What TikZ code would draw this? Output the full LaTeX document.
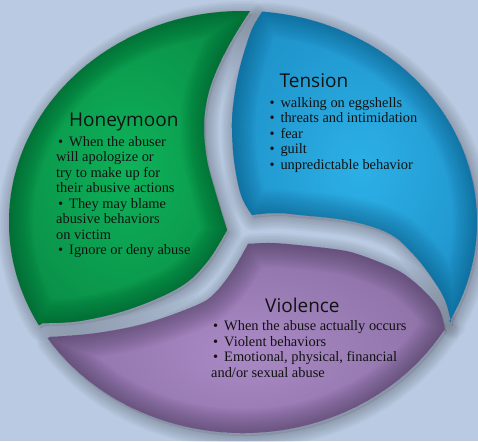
\documentclass[tikz,border=0pt]{standalone}
\usepackage{fontspec}
\setmainfont{Liberation Serif}
\newfontfamily\headfont{Open Sans}

\definecolor{bg}{HTML}{B9CAE2}
\definecolor{glight}{HTML}{0EB25A}
\definecolor{gbase}{HTML}{0A9249}
\definecolor{gdark}{HTML}{03401E}
\definecolor{blight}{HTML}{2CB0E6}
\definecolor{bbase}{HTML}{1F95CC}
\definecolor{bdark}{HTML}{0A456A}
\definecolor{plight}{HTML}{AA8AC6}
\definecolor{pbase}{HTML}{8E72A7}
\definecolor{pdark}{HTML}{352744}
\definecolor{ink}{HTML}{121212}

% outlines of the three segments (centre of the disc at (243,222))
\newcommand\greenseg{([shift={(243,222)}]88.3:234pt and 211pt)
  arc[start angle=88.3,end angle=209.3,x radius=234pt,y radius=211pt]
  -- plot[smooth,tension=0.6] coordinates {(43,323) (80,321) (130,309) (180,287) (207,262) (227,230)}
  -- plot[smooth,tension=0.6] coordinates {(227,230) (216,194) (207,160) (204,125) (208,95) (218,67) (233,38) (250,11)}
  -- cycle}
\newcommand\blueseg{([shift={(243,222)}]-28.1:234pt and 211pt)
  arc[start angle=-28.1,end angle=85.3,x radius=234pt,y radius=211pt]
  -- plot[smooth,tension=0.6] coordinates {(262,12) (253,27) (247,43) (240,67) (235,92) (232,122) (234,160) (241,195) (252,215)}
  -- plot[smooth,tension=0.6] coordinates {(252,215) (275,213) (300,215) (350,221) (390,234) (414,255) (432,278) (445,300) (451,322)}
  -- cycle}
\newcommand\purpleseg{([shift={(243,222)}]213.4:234pt and 211pt)
  arc[start angle=213.4,end angle=329.3,x radius=234pt,y radius=211pt]
  -- plot[smooth,tension=0.6] coordinates {(445,330) (440,311) (430,297) (413,281) (395,269) (363,256) (340,250) (297,245) (270,243) (248,244)}
  -- plot[smooth,tension=0.6] coordinates {(248,244) (233,270) (215,293) (197,305) (147,323) (97,333) (50,337)}
  -- cycle}

\newcommand\bul{\hspace*{2pt}•\hspace{6pt}}

\tikzset{
  heading/.style={font=\headfont\fontsize{19}{22}\selectfont, text=ink, inner sep=0pt, anchor=base west},
  listtext/.style={font=\fontsize{14.4}{15.5}\selectfont, text=ink, inner sep=0pt, anchor=base west},
  segshadow/.style={line width=#1, line join=round, draw=black, xshift=2pt, yshift=-3pt},
  rim/.style={line width=#1, line join=round},
}

\begin{document}
\begin{tikzpicture}[x=1pt,y=-1pt]
  \useasboundingbox (0,0) rectangle (478,441);
  \fill[bg] (0,0) rectangle (478,441);

  % soft drop shadows
  \foreach \seg in {\greenseg,\blueseg,\purpleseg}{
    \foreach \w in {2,5,...,26}{
      \draw[segshadow=\w pt, opacity=0.022] \seg;
    }
    \fill[black, opacity=0.08, xshift=2pt, yshift=-3pt] \seg;
  }

  % segment fills with darkened rims
  \shade[inner color=glight, outer color=gbase] \greenseg;
  \begin{scope}
    \clip \greenseg;
    \foreach \w in {3,6,...,48}{
      \draw[rim=\w pt, draw=gdark, opacity=0.028] \greenseg;
    }
  \end{scope}

  \shade[inner color=blight, outer color=bbase] \blueseg;
  \begin{scope}
    \clip \blueseg;
    \foreach \w in {3,6,...,48}{
      \draw[rim=\w pt, draw=bdark, opacity=0.028] \blueseg;
    }
  \end{scope}

  \shade[inner color=plight, outer color=pbase] \purpleseg;
  \begin{scope}
    \clip \purpleseg;
    \foreach \w in {3,6,...,48}{
      \draw[rim=\w pt, draw=pdark, opacity=0.028] \purpleseg;
    }
  \end{scope}

  % headings
  \node[heading] (honeyhead) at (69,126) {Honeymoon};
  \node[heading] (tensionhead) at (279.5,88) {Tension};
  \node[heading] (violencehead) at (265,312) {Violence};

  % lists
  \node[listtext] (honeylist) at (56,146) {\begin{tabular}[t]{@{}l@{}}
    \bul When the abuser\\
    will apologize or\\
    try to make up for\\
    their abusive actions\\
    \bul They may blame\\
    abusive behaviors\\
    on victim\\
    \bul Ignore or deny abuse
  \end{tabular}};
  \node[listtext] (tensionlist) at (267.3,107) {\begin{tabular}[t]{@{}l@{}}
    \bul walking on eggshells\\
    \bul threats and intimidation\\
    \bul fear\\
    \bul guilt\\
    \bul unpredictable behavior
  \end{tabular}};
  \node[listtext] (violencelist) at (211,330.7) {\begin{tabular}[t]{@{}l@{}}
    \bul When the abuse actually occurs\\
    \bul Violent behaviors\\
    \bul Emotional, physical, financial\\
    and/or sexual abuse
  \end{tabular}};
\end{tikzpicture}
\end{document}
